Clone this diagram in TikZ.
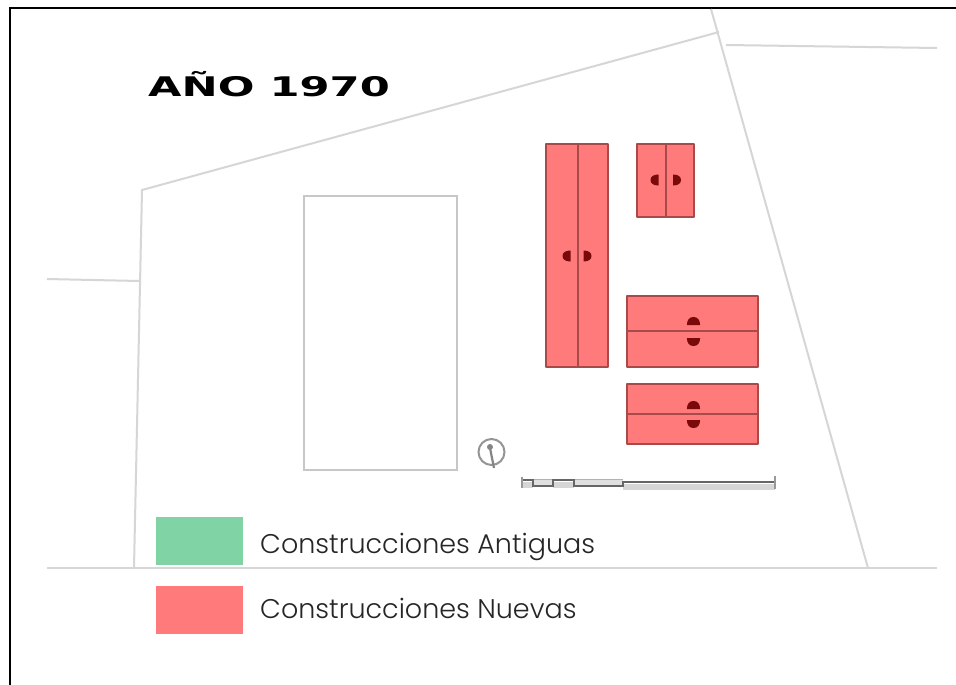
\documentclass[tikz,border=0pt]{standalone}
\usepackage{fontspec}
\setmainfont{Poppins}
\newfontfamily\titlefont[FakeStretch=1.6]{DejaVu Sans Bold}
\newfontfamily\legendfont{Poppins Light}
\definecolor{newred}{HTML}{FF7B7B}
\definecolor{markred}{HTML}{7A0A0A}
\definecolor{oldgreen}{HTML}{7FD3A4}
\definecolor{newedge}{HTML}{A84A4A}
\newcommand{\halfmark}[4][1]{\fill[markfill,shift={(#2,#3)},rotate=#4,yscale=#1] (4,-5.5) .. controls (-1,-5.5) and (-4,-3.5) .. (-4,0) .. controls (-4,3.5) and (-1,5.5) .. (4,5.5) -- cycle;}
\begin{document}
\begin{tikzpicture}[x=1pt,y=-1pt,
  site/.style={draw=black!16,line width=2pt},
  oldb/.style={draw=black!22,line width=1.6pt},
  newb/.style={draw=newedge,fill=newred,line width=1.7pt,line join=round},
  divide/.style={draw=newedge,line width=1.6pt},
  markfill/.style={fill=markred,draw=none},
  swatch/.style={draw=none,inner sep=0pt,minimum width=87pt,minimum height=48pt,rectangle},
  legtext/.style={font=\legendfont\fontsize{27}{30}\selectfont,text=black!85,anchor=base west,inner sep=0pt},
  scaleb/.style={draw=black!60,line width=2pt},
  scaleg/.style={fill=black!16,draw=none}]
\useasboundingbox (0,0) rectangle (956,685);
\fill[white] (0,0) rectangle (956,685);
% frame
\draw[line width=2.2pt,black] (10,685) -- (10,8) -- (956,8);
% site lines
\coordinate (a) at (711,9);
\coordinate (b) at (719,32);
\coordinate (c) at (868,568);
\coordinate (d) at (142,190);
\coordinate (e) at (134,568);
\coordinate (f) at (47,568);
\coordinate (g) at (937,568);
\coordinate (h) at (47,279);
\coordinate (i) at (139,281);
\coordinate (j) at (726,45);
\coordinate (k) at (937,48);
\draw[site] (e) -- (d) -- (b);
\draw[site] (a) -- (c);
\draw[site] (f) -- (g);
\draw[site] (h) -- (i);
\draw[site] (j) -- (k);
% old building
\draw[oldb] (304,196) rectangle (457,470);
% new buildings
\draw[newb] (546,144) rectangle (608,367);
\draw[divide] (578,144) -- (578,367);
\draw[newb] (637,144) rectangle (694,217);
\draw[divide] (666,144) -- (666,217);
\draw[newb] (627,296) rectangle (758,367);
\draw[divide] (627,331) -- (758,331);
\draw[newb] (627,384) rectangle (758,444);
\draw[divide] (627,414) -- (758,414);
% markers
\halfmark{566.5}{256}{0}
\halfmark{587.5}{256}{180}
\halfmark{654.5}{180}{0}
\halfmark{677}{180}{180}
\halfmark[1.2]{693.5}{321}{-90}
\halfmark[1.2]{693.5}{342}{90}
\halfmark[1.2]{693.5}{405}{-90}
\halfmark[1.2]{693.5}{424}{90}
% north symbol
\draw[draw=black!42,line width=2pt] (491.5,452) circle (13);
\draw[draw=black!48,line width=2.2pt] (490,448) -- (494,468);
\fill[black!48] (490,447) circle (3);
% scale bar
\fill[scaleg] (623,484) rectangle (775,490);
\fill[scaleg] (522,482) rectangle (533,488);
\fill[scaleg] (553,482) rectangle (574,488);
\fill[black!12] (533,480) rectangle (553,486);
\fill[black!12] (574,480) rectangle (623,486);
\draw[black!30,line width=.8pt] (533,479.5) -- (553,479.5) (574,479.5) -- (623,479.5);
\draw[scaleb] (522,480) -- (533,480) -- (533,486) -- (553,486) -- (553,480) -- (574,480) -- (574,486) -- (623,486) -- (623,482) -- (775,482);
\draw[black!40,line width=1.2pt] (522,477) -- (522,488);
\draw[black!40,line width=1.2pt] (775,476) -- (775,489);
% title
\node[anchor=base west,inner sep=0pt,font=\titlefont\fontsize{27}{30}\selectfont] (title) at (148,96) {AÑO 1970};
% legend
\node[swatch,fill=oldgreen,anchor=north west] (s1) at (156,517) {};
\node[swatch,fill=newred,anchor=north west] (s2) at (156,586) {};
\node[legtext] (t1) at (260,553) {Construcciones Antiguas};
\node[legtext] (t2) at (260,618) {Construcciones Nuevas};
\end{tikzpicture}
\end{document}
